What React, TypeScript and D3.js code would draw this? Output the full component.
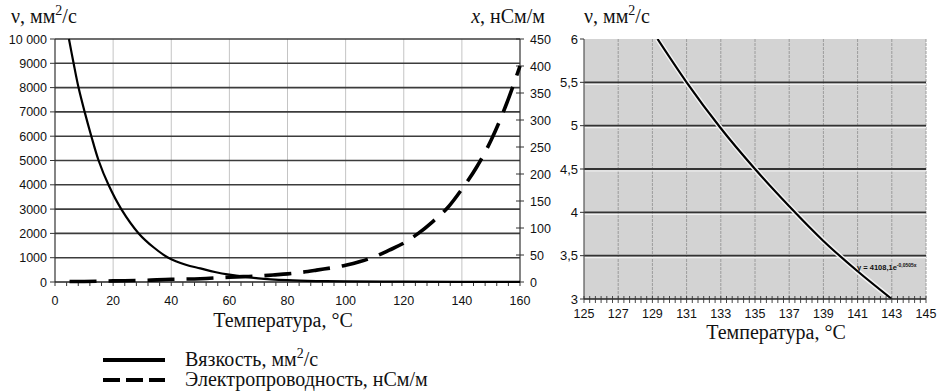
import * as d3 from "d3";
import { useEffect, useRef } from "react";

// left chart: viscosity (left axis) and conductivity (right axis) vs temperature
const viscTemp = [4.8, 6.4, 8.1, 10.2, 12.5, 15.0, 18.4, 22.8, 28.8, 34, 39, 45, 50, 55, 60, 70, 80, 90, 100, 120, 140, 160];
const viscValue = [10000, 9000, 8000, 7000, 6000, 5000, 4000, 3000, 2000, 1420, 1000, 710, 560, 410, 300, 150, 75, 40, 25, 12, 6, 3];

const condTemp = [5, 10, 20, 30, 40, 50, 60, 65, 70, 75, 80, 85, 90, 100, 105, 110, 115, 120, 125, 130, 135, 140, 145, 150, 155, 160];
const condValue = [1, 1, 2, 3, 5, 6, 9, 10, 11, 13, 15, 18, 22, 31, 38, 47, 59, 72, 90, 112, 137, 172, 212, 262, 325, 400];

// right chart: zoomed viscosity 125..145 °C
const zoomTemp = [129.3, 131, 133, 135, 137, 139, 141, 143];
const zoomValue = [6.0, 5.5, 4.97, 4.5, 4.07, 3.67, 3.32, 3.0];

const leftXTicks = [0, 20, 40, 60, 80, 100, 120, 140, 160];
const leftYTicks = [0, 1000, 2000, 3000, 4000, 5000, 6000, 7000, 8000, 9000, 10000];
const rightYTicks = [0, 50, 100, 150, 200, 250, 300, 350, 400, 450];
const zoomXTicks = [125, 127, 129, 131, 133, 135, 137, 139, 141, 143, 145];
const zoomYTicks = [3, 3.5, 4, 4.5, 5, 5.5, 6];

const SANS = "'Liberation Sans', Arial, sans-serif";
const SERIF = "'Liberation Serif', 'Times New Roman', serif";

export default function App() {
  const ref = useRef<SVGSVGElement>(null);

  useEffect(() => {
    const svg = d3.select(ref.current);
    svg.selectAll("*").remove();

    // ---------- left chart ----------
    const L = { left: 55, right: 520, top: 39, bottom: 282 };
    const x = d3.scaleLinear().domain([0, 160]).range([L.left, L.right]);
    const yV = d3.scaleLinear().domain([0, 10000]).range([L.bottom, L.top]);
    const yC = d3.scaleLinear().domain([0, 450]).range([L.bottom, L.top]);

    const g = svg.append("g");

    g.selectAll("line.vgrid")
      .data(leftXTicks.filter(d => d > 0 && d < 160))
      .join("line")
      .attr("x1", d => x(d)).attr("x2", d => x(d))
      .attr("y1", L.top).attr("y2", L.bottom)
      .attr("stroke", "#c4c4c4").attr("stroke-width", 1);

    g.selectAll("line.hgrid")
      .data(leftYTicks.filter(d => d > 0))
      .join("line")
      .attr("x1", L.left).attr("x2", L.right)
      .attr("y1", d => yV(d)).attr("y2", d => yV(d))
      .attr("stroke", "#3c3c3c").attr("stroke-width", 1.6);

    // axes lines
    g.append("line").attr("x1", L.left).attr("x2", L.left).attr("y1", L.top).attr("y2", L.bottom)
      .attr("stroke", "#333").attr("stroke-width", 1.2);
    g.append("line").attr("x1", L.right).attr("x2", L.right).attr("y1", L.top).attr("y2", L.bottom)
      .attr("stroke", "#333").attr("stroke-width", 1.2);
    g.append("line").attr("x1", L.left).attr("x2", L.right).attr("y1", L.bottom).attr("y2", L.bottom)
      .attr("stroke", "#222").attr("stroke-width", 1.6);

    // left y ticks + labels
    g.selectAll("line.ylt").data(leftYTicks).join("line")
      .attr("x1", L.left - 5).attr("x2", L.left)
      .attr("y1", d => yV(d)).attr("y2", d => yV(d))
      .attr("stroke", "#333");
    g.selectAll("text.ylt").data(leftYTicks).join("text")
      .attr("x", L.left - 8).attr("y", d => yV(d)).attr("dy", "0.36em")
      .attr("text-anchor", "end")
      .attr("font-family", SANS).attr("font-size", 12.5).attr("fill", "#111")
      .text(d => d === 10000 ? "10 000" : String(d));

    // right y ticks + labels
    g.selectAll("line.yrt").data(rightYTicks).join("line")
      .attr("x1", L.right - 4).attr("x2", L.right + 4)
      .attr("y1", d => yC(d)).attr("y2", d => yC(d))
      .attr("stroke", "#333");
    g.selectAll("text.yrt").data(rightYTicks).join("text")
      .attr("x", L.right + 10).attr("y", d => yC(d)).attr("dy", "0.36em")
      .attr("font-family", SANS).attr("font-size", 12.5).attr("fill", "#111")
      .text(d => String(d));

    // x minor ticks every 4
    g.selectAll("line.xt").data(d3.range(0, 161, 4)).join("line")
      .attr("x1", d => x(d)).attr("x2", d => x(d))
      .attr("y1", L.bottom).attr("y2", L.bottom + 4)
      .attr("stroke", "#333");
    g.selectAll("text.xt").data(leftXTicks).join("text")
      .attr("x", d => x(d)).attr("y", L.bottom + 23)
      .attr("text-anchor", "middle")
      .attr("font-family", SANS).attr("font-size", 12.5).attr("fill", "#111")
      .text(d => String(d));

    const viscLine = d3.line<number>()
      .x((d, i) => x(viscTemp[i])).y(d => yV(d))
      .curve(d3.curveCatmullRom.alpha(0.5));
    g.append("path").attr("d", viscLine(viscValue))
      .attr("fill", "none").attr("stroke", "#000").attr("stroke-width", 2.2);

    const condLine = d3.line<number>()
      .x((d, i) => x(condTemp[i])).y(d => yC(d))
      .curve(d3.curveMonotoneX);
    g.append("path").attr("d", condLine(condValue))
      .attr("fill", "none").attr("stroke", "#000").attr("stroke-width", 3.6)
      .attr("stroke-dasharray", "27 12");

    // titles
    const t1 = g.append("text").attr("x", 11).attr("y", 23)
      .attr("font-family", SERIF).attr("font-size", 20).attr("fill", "#111");
    t1.append("tspan").text("ν, мм");
    t1.append("tspan").attr("font-size", 14).attr("dy", -8).text("2");
    t1.append("tspan").attr("dy", 8).text("/с");

    const t2 = g.append("text").attr("x", 545).attr("y", 23).attr("text-anchor", "end")
      .attr("font-family", SERIF).attr("font-size", 20).attr("fill", "#111");
    t2.append("tspan").attr("font-style", "italic").text("x");
    t2.append("tspan").text(", нСм/м");

    g.append("text").attr("x", 283).attr("y", 327).attr("text-anchor", "middle")
      .attr("font-family", SERIF).attr("font-size", 20).attr("fill", "#111")
      .text("Температура, °C");

    // legend
    g.append("line").attr("x1", 103).attr("x2", 165).attr("y1", 360).attr("y2", 360)
      .attr("stroke", "#000").attr("stroke-width", 4);
    g.append("line").attr("x1", 103).attr("x2", 165).attr("y1", 380).attr("y2", 380)
      .attr("stroke", "#000").attr("stroke-width", 4).attr("stroke-dasharray", "17 6");
    const l1 = g.append("text").attr("x", 185).attr("y", 366)
      .attr("font-family", SERIF).attr("font-size", 20).attr("fill", "#111");
    l1.append("tspan").text("Вязкость, мм");
    l1.append("tspan").attr("font-size", 14).attr("dy", -8).text("2");
    l1.append("tspan").attr("dy", 8).text("/с");
    g.append("text").attr("x", 185).attr("y", 386)
      .attr("font-family", SERIF).attr("font-size", 20).attr("fill", "#111")
      .text("Электропроводность, нСм/м");

    // ---------- right chart ----------
    const R = { left: 584, right: 926, top: 39, bottom: 299 };
    const xz = d3.scaleLinear().domain([125, 145]).range([R.left, R.right]);
    const yz = d3.scaleLinear().domain([3, 6]).range([R.bottom, R.top]);

    const r = svg.append("g");
    r.append("rect").attr("x", R.left).attr("y", R.top)
      .attr("width", R.right - R.left).attr("height", R.bottom - R.top)
      .attr("fill", "#d3d3d3");

    r.selectAll("line.vz").data(zoomXTicks.filter(d => d > 125)).join("line")
      .attr("x1", d => xz(d)).attr("x2", d => xz(d))
      .attr("y1", R.top).attr("y2", R.bottom)
      .attr("stroke", "#9c9c9c").attr("stroke-width", 1).attr("stroke-dasharray", "3 1");

    r.selectAll("line.hzw").data(zoomYTicks.filter(d => d > 3 && d < 6)).join("line")
      .attr("x1", R.left).attr("x2", R.right)
      .attr("y1", d => yz(d) + 2).attr("y2", d => yz(d) + 2)
      .attr("stroke", "#f2f2f2").attr("stroke-width", 1.2);
    r.selectAll("line.hz").data(zoomYTicks.filter(d => d > 3 && d < 6)).join("line")
      .attr("x1", R.left).attr("x2", R.right)
      .attr("y1", d => yz(d)).attr("y2", d => yz(d))
      .attr("stroke", "#333").attr("stroke-width", 1.8);

    const clipId = "zclip";
    svg.append("clipPath").attr("id", clipId).append("rect")
      .attr("x", R.left).attr("y", R.top)
      .attr("width", R.right - R.left).attr("height", R.bottom - R.top);

    const zoomLine = d3.line<number>()
      .x((d, i) => xz(zoomTemp[i])).y(d => yz(d))
      .curve(d3.curveMonotoneX);
    r.append("path").attr("d", zoomLine(zoomValue)).attr("clip-path", `url(#${clipId})`)
      .attr("fill", "none").attr("stroke", "#f4f4f4").attr("stroke-width", 5);
    r.append("path").attr("d", zoomLine(zoomValue)).attr("clip-path", `url(#${clipId})`)
      .attr("fill", "none").attr("stroke", "#000").attr("stroke-width", 2.2);

    // axes
    r.append("line").attr("x1", R.left).attr("x2", R.left).attr("y1", R.top).attr("y2", R.bottom)
      .attr("stroke", "#555").attr("stroke-width", 1.2);
    r.append("line").attr("x1", R.left).attr("x2", R.right).attr("y1", R.bottom).attr("y2", R.bottom)
      .attr("stroke", "#222").attr("stroke-width", 1.4);

    r.selectAll("line.zyt").data(zoomYTicks).join("line")
      .attr("x1", R.left - 4).attr("x2", R.left)
      .attr("y1", d => yz(d)).attr("y2", d => yz(d))
      .attr("stroke", "#333");
    r.selectAll("text.zyt").data(zoomYTicks).join("text")
      .attr("x", R.left - 6).attr("y", d => yz(d)).attr("dy", "0.36em")
      .attr("text-anchor", "end")
      .attr("font-family", SANS).attr("font-size", 13).attr("fill", "#111")
      .text(d => String(d).replace(".", ","));

    r.selectAll("line.zxt").data(d3.range(0, 61)).join("line")
      .attr("x1", d => xz(125 + d / 3)).attr("x2", d => xz(125 + d / 3))
      .attr("y1", R.bottom - 3).attr("y2", R.bottom + 4)
      .attr("stroke", "#333").attr("stroke-width", 0.9);
    r.selectAll("text.zxt").data(zoomXTicks).join("text")
      .attr("x", d => xz(d)).attr("y", R.bottom + 19)
      .attr("text-anchor", "middle")
      .attr("font-family", SANS).attr("font-size", 12.5).attr("fill", "#111")
      .text(d => String(d));

    const eq = r.append("text").attr("x", 857).attr("y", 270)
      .attr("font-family", SANS).attr("font-size", 7.5).attr("font-weight", "bold").attr("fill", "#111");
    eq.append("tspan").text("y = 4108,1e");
    eq.append("tspan").attr("font-size", 5).attr("dy", -3).text("-0,0505x");

    const t3 = r.append("text").attr("x", 584).attr("y", 23)
      .attr("font-family", SERIF).attr("font-size", 20).attr("fill", "#111");
    t3.append("tspan").text("ν, мм");
    t3.append("tspan").attr("font-size", 14).attr("dy", -8).text("2");
    t3.append("tspan").attr("dy", 8).text("/с");

    r.append("text").attr("x", 776).attr("y", 339).attr("text-anchor", "middle")
      .attr("font-family", SERIF).attr("font-size", 20).attr("fill", "#111")
      .text("Температура, °C");
  }, []);

  return (
    <svg ref={ref} width={937} height={391}
      style={{ position: "absolute", left: 0, top: 0, background: "#fff" }} />
  );
}
